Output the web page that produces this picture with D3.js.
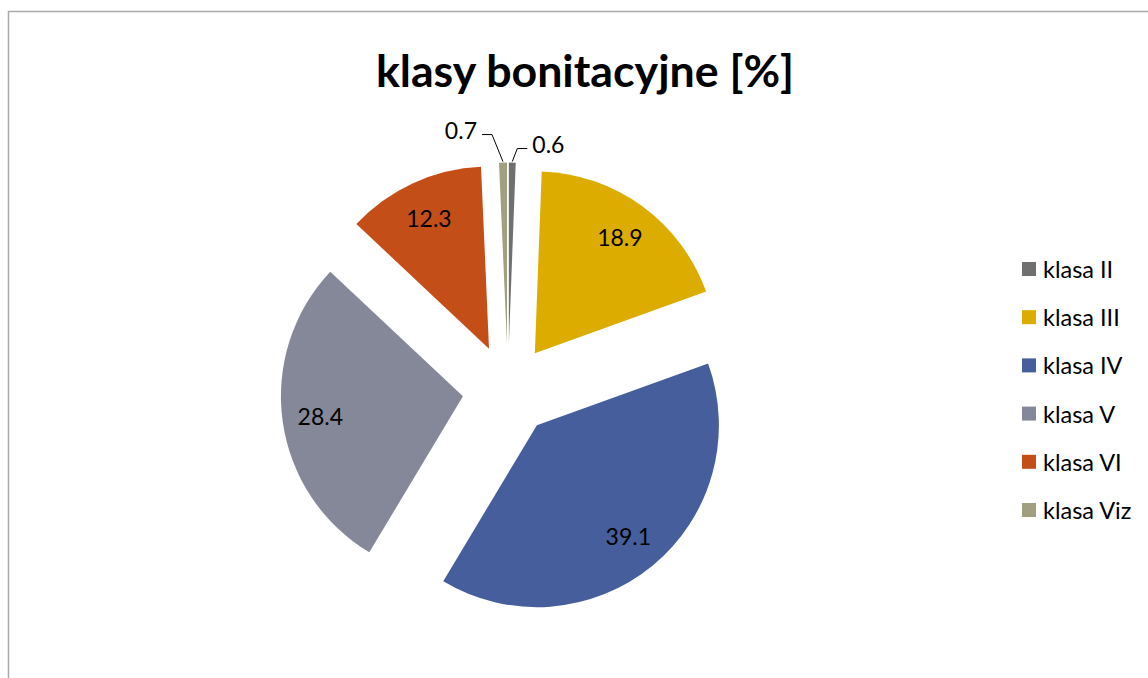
<!DOCTYPE html>
<html><head><meta charset="utf-8">
<script src="https://cdn.jsdelivr.net/npm/d3@7"></script>
<style>
html,body{margin:0;padding:0;background:#fff;}
svg{display:block;}
</style></head>
<body>
<script>
const title = "klasy bonitacyjne [%]";
const categories = ["klasa II","klasa III","klasa IV","klasa V","klasa VI","klasa Viz"];
const values = [0.6, 18.9, 39.1, 28.4, 12.3, 0.7];
const colors = ["#707070","#DCAD00","#465E9B","#858898","#C44E18","#A0A080"];

const W = 1148, H = 678;
const svg = d3.select("body").append("svg").attr("width", W).attr("height", H);
const FONT = "Lato, 'Open Sans', sans-serif";

// chart border
svg.append("rect").attr("x", 8.5).attr("y", 11.5).attr("width", W + 20).attr("height", H + 20)
  .attr("fill", "none").attr("stroke", "#ababab").attr("stroke-width", 1.5);

svg.append("text").attr("x", 585).attr("y", 87).attr("text-anchor", "middle")
  .attr("font-family", FONT).attr("font-weight", "bold").attr("font-size", 44.7)
  .attr("fill", "#000").text(title);

const cx = 508, cy = 390, R = 182, explode = 45.5, labelR = 144;
const data = categories.map((c, i) => ({cat: c, value: values[i], color: colors[i]}));
const pie = d3.pie().sort(null).value(d => d.value);
const arcs = pie(data);
const arc = d3.arc().innerRadius(0).outerRadius(R);

const g = svg.append("g").attr("transform", `translate(${cx},${cy})`);
function offset(a, r) {
  const m = (a.startAngle + a.endAngle) / 2;
  return [Math.sin(m) * r, -Math.cos(m) * r];
}
const slices = g.selectAll("g.slice").data(arcs).enter().append("g")
  .attr("transform", d => { const o = offset(d, explode); return `translate(${o[0]},${o[1]})`; });
slices.append("path").attr("d", arc).attr("fill", d => d.data.color);

// inside labels
slices.filter(d => d.data.value > 5).append("text")
  .attr("x", d => offset(d, labelR)[0]).attr("y", d => offset(d, labelR)[1])
  .attr("text-anchor", "middle").attr("dominant-baseline", "central")
  .attr("font-family", FONT).attr("font-size", 23).attr("fill", "#000")
  .text(d => d.data.value.toFixed(1));

// outside labels with leader lines (pixel offsets of elbow from slice edge)
const outside = {
  "klasa II": {elbow: [5, -13], end: [15, -13], side: 1},
  "klasa Viz": {elbow: [-11, -27], end: [-21, -27], side: -1}
};
slices.filter(d => outside[d.data.cat]).each(function(d) {
  const s = d3.select(this);
  const cfg = outside[d.data.cat];
  const p = offset(d, R + 1);
  const e = [p[0] + cfg.elbow[0], p[1] + cfg.elbow[1]];
  const t = [p[0] + cfg.end[0], p[1] + cfg.end[1]];
  s.append("polyline").attr("points", [p, e, t].map(q => q.join(",")).join(" "))
    .attr("fill", "none").attr("stroke", "#000").attr("stroke-width", 1);
  s.append("text").attr("x", t[0] + cfg.side * 5).attr("y", t[1] - 5)
    .attr("text-anchor", cfg.side > 0 ? "start" : "end").attr("dominant-baseline", "central")
    .attr("font-family", FONT).attr("font-size", 23).attr("fill", "#000")
    .text(d.data.value.toFixed(1));
});

// legend
const legend = svg.append("g").attr("transform", "translate(1022,269)");
const rows = legend.selectAll("g").data(data).enter().append("g")
  .attr("transform", (d, i) => `translate(0,${i * 48.2})`);
rows.append("rect").attr("x", 0).attr("y", -7).attr("width", 14).attr("height", 14).attr("fill", d => d.color);
rows.append("text").attr("x", 21).attr("y", 0).attr("dominant-baseline", "central")
  .attr("font-family", FONT).attr("font-size", 23.5).attr("fill", "#000").text(d => d.cat);
</script>
</body></html>
